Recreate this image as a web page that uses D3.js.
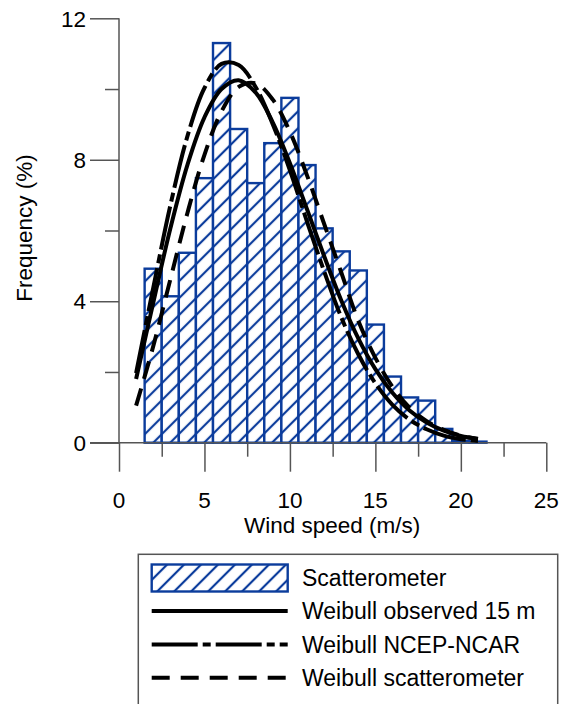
<!DOCTYPE html>
<html>
<head>
<meta charset="utf-8">
<script src="https://cdn.jsdelivr.net/npm/d3@7"></script>
<style>
  html, body { margin: 0; padding: 0; background: #fff; }
  svg { display: block; }
  text { font-family: "Liberation Sans", Arial, sans-serif; fill: #000; }
</style>
</head>
<body>
<svg id="chart" width="561" height="704"></svg>
<script>
// ---- data ----
const binCenters = [2,3,4,5,6,7,8,9,10,11,12,13,14,15,16,17,18,19,20,21];
const scatterFreq = [4.92,4.14,5.37,7.48,11.30,8.87,7.34,8.47,9.75,7.85,6.06,5.41,4.87,3.34,1.87,1.28,1.19,0.39,0.05,0.03];

const curveSpeeds = [1,2,3,4,5,6,7,8,9,10,11,12,13,14,15,16,17,18,19,20,21];
const weibullObserved = [1.80,3.95,6.05,7.85,9.20,10.00,10.25,9.90,9.05,7.90,6.60,5.28,4.03,2.95,2.08,1.41,0.91,0.57,0.34,0.19,0.11];
const weibullNcep     = [1.97,4.37,6.70,8.66,10.03,10.71,10.68,10.05,9.00,7.70,6.25,4.85,3.55,2.50,1.68,1.07,0.65,0.38,0.20,0.10,0.05];
const weibullScat     = [1.05,2.72,4.61,6.49,8.14,9.37,10.06,10.16,9.70,8.79,7.56,6.19,4.82,3.45,2.40,1.58,0.99,0.61,0.36,0.20,0.10];

const xTicks = [0,2.5,5,7.5,10,12.5,15,17.5,20,22.5,25];
const xLabels = [0,5,10,15,20,25];
const yTicks = [0,2,4,6,8,10,12];
const yLabels = [0,4,8,12];

const legendItems = ["Scatterometer","Weibull observed 15 m","Weibull NCEP-NCAR","Weibull scatterometer"];
const xTitle = "Wind speed (m/s)";
const yTitle = "Frequency (%)";

// ---- layout ----
const blue = "#0b3c9c";
const axisCol = "#555";
const svg = d3.select("#chart");
const x = d3.scaleLinear().domain([0,25]).range([119,546.3]);
const y = d3.scaleLinear().domain([0,12]).range([442.7,18.3]);

const defs = svg.append("defs");
const pat = defs.append("pattern")
  .attr("id","hatch").attr("patternUnits","userSpaceOnUse")
  .attr("width",12).attr("height",12)
  .attr("patternTransform","translate(2,0) rotate(45)");
pat.append("rect").attr("width",12).attr("height",12).attr("fill","#fff");
[0,12].forEach((px)=>{
  pat.append("line").attr("x1",px).attr("y1",-1).attr("x2",px).attr("y2",13)
    .attr("stroke",blue).attr("stroke-width",2.2);
});

// bars
svg.append("g").selectAll("rect").data(binCenters).join("rect")
  .attr("x",(d)=>x(d-0.5))
  .attr("width",(d)=>x(d+0.5)-x(d-0.5))
  .attr("y",(d,i)=>y(scatterFreq[i]))
  .attr("height",(d,i)=>y(0)-y(scatterFreq[i]))
  .attr("fill","url(#hatch)")
  .attr("stroke",blue).attr("stroke-width",2.4);

// axes
const xAxis = d3.axisBottom(x).tickValues(xTicks).tickFormat("")
  .tickSizeOuter(0).tickSizeInner(14);
const gx = svg.append("g").attr("transform",`translate(0,${y(0)})`).call(xAxis);
gx.selectAll(".tick line").attr("y2",(d)=> (d%5===0 ? 29 : 14));
gx.select(".domain").attr("d",`M${x(0)-29},0H${x(25)}`);
gx.selectAll("path,line").attr("stroke",axisCol).attr("stroke-width",1.5);
gx.selectAll(".tick text").remove();

const yAxis = d3.axisLeft(y).tickValues(yTicks).tickFormat("")
  .tickSizeOuter(0).tickSizeInner(14);
const gy = svg.append("g").attr("transform",`translate(${x(0)},0)`).call(yAxis);
gy.selectAll(".tick line").attr("x2",(d)=> (d%4===0 ? -29 : -14));
gy.select(".domain").attr("d",`M0,${y(12)}V${y(0)}`);
gy.selectAll("path,line").attr("stroke",axisCol).attr("stroke-width",1.5);
gy.selectAll(".tick text").remove();

svg.append("g").selectAll("text").data(xLabels).join("text")
  .attr("x",(d)=>x(d)).attr("y",508).attr("text-anchor","middle")
  .attr("font-size",22.5).text((d)=>d);
svg.append("g").selectAll("text").data(yLabels).join("text")
  .attr("x",86).attr("y",(d)=>y(d)+8.2).attr("text-anchor","end")
  .attr("font-size",22.5).text((d)=>d);

svg.append("text").attr("x",(x(0)+x(25))/2 - 0.5).attr("y",533)
  .attr("text-anchor","middle").attr("font-size",22.5).text(xTitle);
svg.append("text").attr("transform","translate(32,228) rotate(-90)")
  .attr("text-anchor","middle").attr("font-size",22.5).text(yTitle);

// curves
const line = d3.line().x((d)=>x(d[0])).y((d)=>y(d[1])).curve(d3.curveCatmullRom);
const series = [
  {vals: weibullObserved, dash: null},
  {vals: weibullNcep, dash: "44,5,9,5"},
  {vals: weibullScat, dash: "18,10"}
];
series.forEach((s)=>{
  svg.append("path")
    .datum(curveSpeeds.map((v,i)=>[v,s.vals[i]]))
    .attr("d",line).attr("fill","none")
    .attr("stroke","#000").attr("stroke-width",4)
    .attr("stroke-dasharray",s.dash);
});

// legend
const lg = svg.append("g");
lg.append("rect").attr("x",138.3).attr("y",554.3).attr("width",419.4).attr("height",160)
  .attr("fill","#fff").attr("stroke",axisCol).attr("stroke-width",1.5);
const rowY = [577.7,611,644.5,677.7];
lg.append("rect").attr("x",151.7).attr("y",564.5).attr("width",136).attr("height",27)
  .attr("fill","url(#hatch)").attr("stroke",blue).attr("stroke-width",2.4);
const dashes = [null,"46,5,8,5","18,11"];
[1,2,3].forEach((r)=>{
  lg.append("line").attr("x1",151.7).attr("x2",287.7)
    .attr("y1",rowY[r]).attr("y2",rowY[r])
    .attr("stroke","#000").attr("stroke-width",4)
    .attr("stroke-dasharray",dashes[r-1]);
});
lg.selectAll("text.lt").data(legendItems).join("text").attr("class","lt")
  .attr("x",302).attr("y",(d,i)=>rowY[i]+8.2).attr("font-size",23).text((d)=>d);
</script>
</body>
</html>
